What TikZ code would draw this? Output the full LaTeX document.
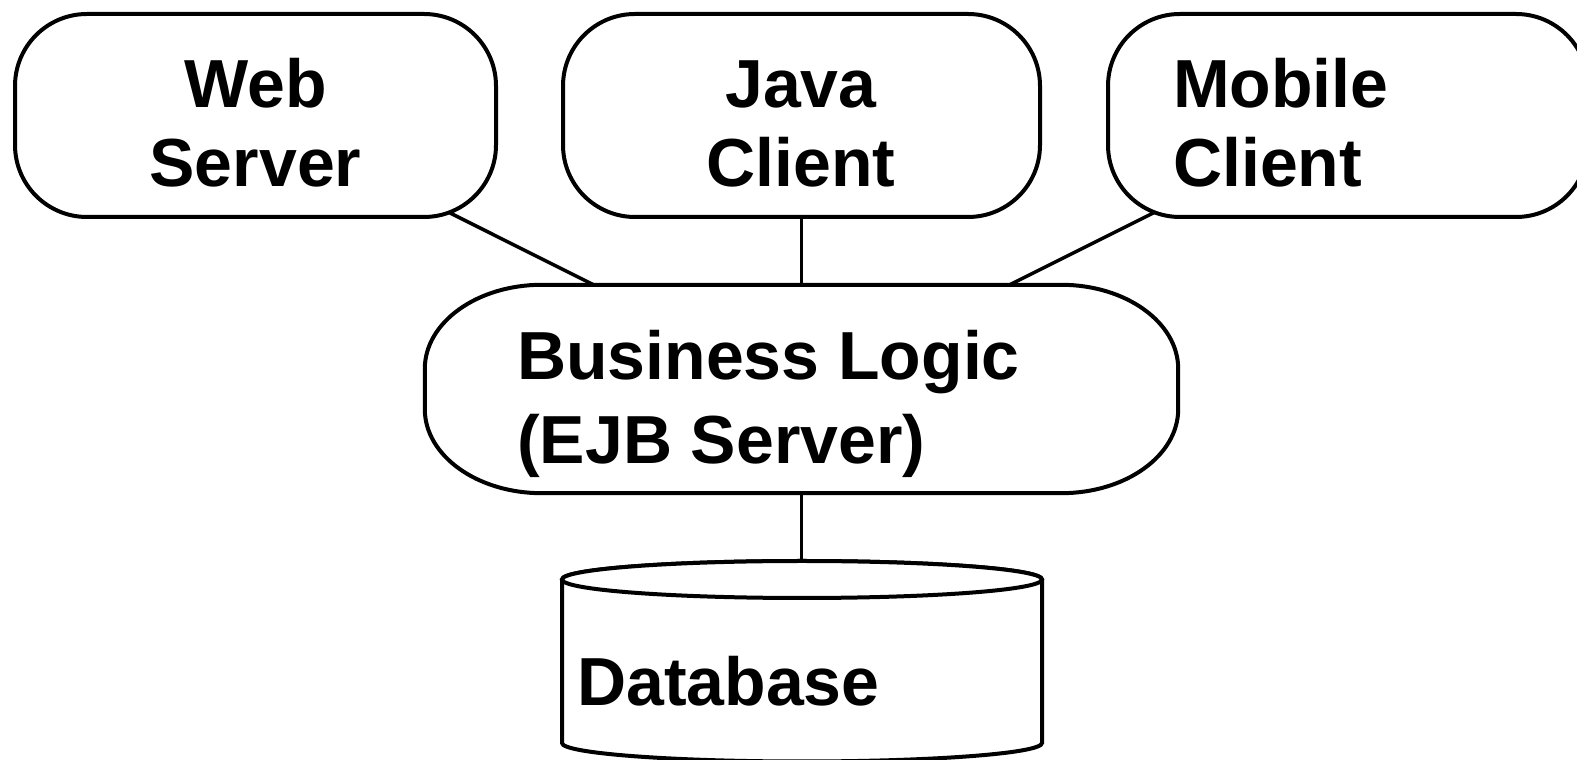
\documentclass[tikz,border=0pt]{standalone}
\usepackage{fontspec}
\setmainfont{Liberation Sans}
\pgfdeclarelayer{bg}
\pgfsetlayers{bg,main}
\tikzset{
  boxline/.style={draw=black, line width=4pt, fill=white},
  pillbox/.style={boxline, rectangle, rounded corners=72pt, minimum width=481pt, minimum height=203pt, inner sep=0pt},
  ghost/.style={rectangle, draw=none, inner sep=0pt},
  conn/.style={draw=black, line width=3.5pt},
  lbl/.style={inner sep=0pt, font=\fontsize{68}{79}\selectfont\bfseries}
}
\begin{document}
\begin{tikzpicture}[x=1pt,y=1pt]
\clip (0,0) rectangle (1577,760);

% top boxes
\node[pillbox] (web) at (255.5,644.5) {};
\node[pillbox, minimum width=477pt] (java) at (801.5,644.5) {};
\node[pillbox, minimum width=480pt] (mobile) at (1348,644.5) {};

% business logic (elliptical corners)
\node[ghost, minimum width=753pt, minimum height=208pt] (bl) at (801.5,371) {};
\draw[boxline]
  ([xshift=117pt]bl.north west) -- ([xshift=-117pt]bl.north east)
  arc[start angle=90, end angle=0, x radius=117pt, y radius=84pt]
  -- ([yshift=84pt]bl.south east)
  arc[start angle=0, end angle=-90, x radius=117pt, y radius=84pt]
  -- ([xshift=117pt]bl.south west)
  arc[start angle=270, end angle=180, x radius=117pt, y radius=84pt]
  -- ([yshift=-84pt]bl.north west)
  arc[start angle=180, end angle=90, x radius=117pt, y radius=84pt]
  -- cycle;

% database cylinder
\node[ghost, minimum width=480pt, minimum height=182pt] (db) at (802,108) {};
\coordinate (dbtop) at (802,180.5);
\draw[boxline]
  (562,180.5) -- (562,17)
  arc[start angle=180, end angle=360, x radius=240pt, y radius=18.5pt]
  -- (1042,180.5)
  arc[start angle=0, end angle=180, x radius=240pt, y radius=18.5pt];
\draw[boxline] (dbtop) ellipse[x radius=240pt, y radius=18.5pt];

% connectors (behind shapes)
\begin{pgfonlayer}{bg}
\fill[white] (0,0) rectangle (1577,760);
\draw[conn] (web.center) -- (bl.center);
\draw[conn] (java.center) -- (java.center |- bl.center);
\draw[conn] (mobile.center) -- (bl.center);
\draw[conn] (bl.center) -- (bl.center |- dbtop);
\end{pgfonlayer}

% labels
\node[lbl, anchor=base] (webA) at (255.5,652) {Web};
\node[lbl, anchor=base] (webB) at (255.5,573) {Server};
\node[lbl, anchor=base] (javaA) at (801,652) {Java};
\node[lbl, anchor=base] (javaB) at (801,573) {Client};
\node[lbl, anchor=base west] (mobA) at (1173,652) {Mobile};
\node[lbl, anchor=base west] (mobB) at (1173,573) {Client};
\node[lbl, anchor=base west] (blA) at (517,380) {Business Logic};
\node[lbl, anchor=base west] (blB) at (517,296) {(EJB Server)};
\node[lbl, anchor=base west] (dbA) at (577,54) {Database};
\end{tikzpicture}
\end{document}
